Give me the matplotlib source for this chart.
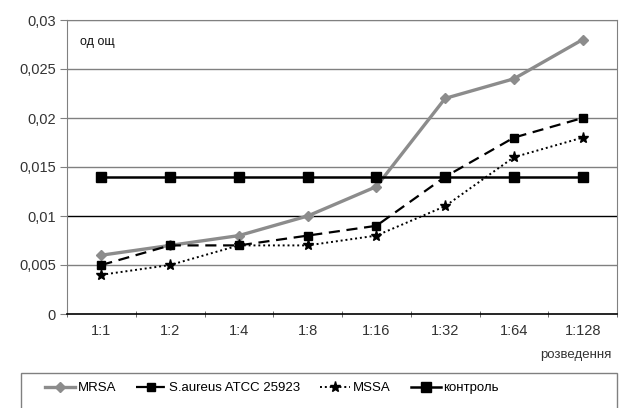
import matplotlib
matplotlib.use("Agg")
import matplotlib.pyplot as plt
from matplotlib.patches import Rectangle
import numpy as np

plt.rcParams['font.family'] = ['Liberation Sans', 'DejaVu Sans']

categories = ["1:1", "1:2", "1:4", "1:8", "1:16", "1:32", "1:64", "1:128"]
mrsa = [0.006, 0.007, 0.008, 0.010, 0.013, 0.022, 0.024, 0.028]
saureus = [0.005, 0.007, 0.007, 0.008, 0.009, 0.014, 0.018, 0.020]
mssa = [0.004, 0.005, 0.007, 0.007, 0.008, 0.011, 0.016, 0.018]
control = [0.014, 0.014, 0.014, 0.014, 0.014, 0.014, 0.014, 0.014]
yticks = [0, 0.005, 0.01, 0.015, 0.02, 0.025, 0.03]
ytick_labels = ["0", "0,005", "0,01", "0,015", "0,02", "0,025", "0,03"]

W, H = 622, 408
fig = plt.figure(figsize=(W/100, H/100), dpi=100)
ax = fig.add_axes([67/W, 1-314/H, (617-67)/W, (314-20)/H])

x = np.arange(len(categories))

for yv in yticks[1:]:
    col = 'black' if abs(yv-0.01) < 1e-9 else '#808080'
    ax.axhline(yv, color=col, lw=1.0, zorder=1)

ax.plot(x, mrsa, color='#8c8c8c', lw=2.4, marker='D', ms=5, label='MRSA', zorder=3)
ax.plot(x, saureus, color='black', lw=1.6, ls=(0, (5, 3)), marker='s', ms=6, label='S.aureus ATCC 25923', zorder=4)
ax.plot(x, mssa, color='black', lw=1.4, ls=(0, (1, 1.5)), marker='*', ms=8, label='MSSA', zorder=4)
ax.plot(x, control, color='black', lw=1.8, marker='s', ms=7, label='контроль', zorder=5)

ax.set_xlim(-0.5, len(categories)-0.5)
ax.set_ylim(0, 0.03)
ax.set_yticks(yticks)
ax.set_yticklabels(ytick_labels, fontsize=10.5, color='#333333')
ax.set_xticks(x)
ax.set_xticklabels(categories, fontsize=10.5, color='#333333')
ax.tick_params(axis='x', which='major', length=0, pad=7)
ax.set_xticks(np.arange(-0.5, len(categories), 1), minor=True)
ax.tick_params(axis='x', which='minor', length=5, direction='inout', color='#555555')
ax.tick_params(axis='y', length=5, color='#808080', pad=3)

for s in ['left', 'top', 'right']:
    ax.spines[s].set_color('#808080')
ax.spines['bottom'].set_color('black')
ax.spines['bottom'].set_linewidth(1.2)

ax.text(80/W, 1-42/H, 'од ощ', transform=fig.transFigure, fontsize=9, va='center', ha='left', color='#111111')
fig.text(612/W, 1-355/H, 'розведення', fontsize=9.5, ha='right', va='center', color='#333333')

rect = Rectangle((21/W, 1-420/H), (617-21)/W, (420-373)/H, transform=fig.transFigure,
                 fill=False, edgecolor='#808080', lw=1.0)
fig.patches.append(rect)

fig.legend(loc='center', bbox_to_anchor=(272/W, 1-388/H), ncol=4, frameon=False,
           fontsize=9.5, handlelength=2.3, columnspacing=1.5, handletextpad=0.2)

fig.savefig('out.png', dpi=100)
